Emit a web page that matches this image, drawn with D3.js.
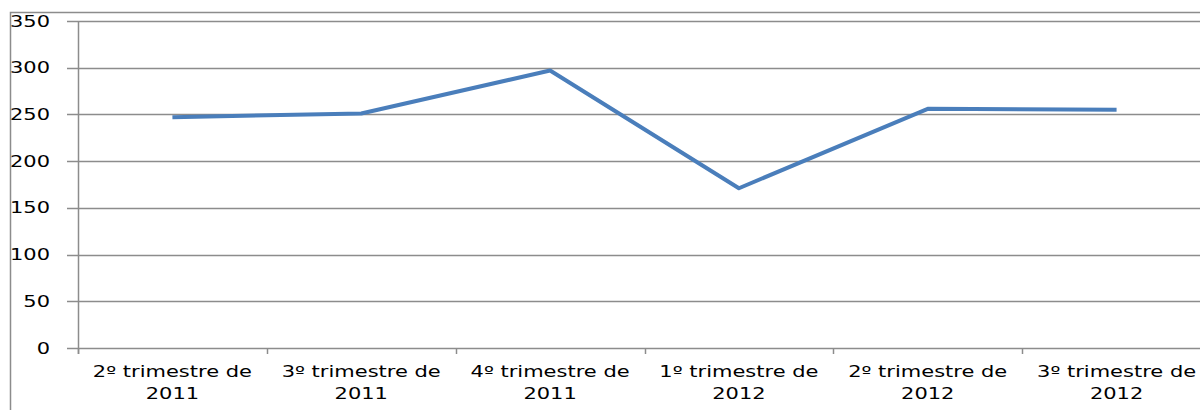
<!DOCTYPE html>
<html>
<head>
<meta charset="utf-8">
<script src="https://cdn.jsdelivr.net/npm/d3@7"></script>
<style>
  body { margin: 0; background: #fff; }
  svg text { font-family: "DejaVu Sans", sans-serif; fill: #000; }
</style>
</head>
<body>
<svg class="chart"></svg>
<script>
// Chart data
var quarters = ["2º trimestre de", "3º trimestre de", "4º trimestre de", "1º trimestre de", "2º trimestre de", "3º trimestre de"];
var years = ["2011", "2011", "2011", "2012", "2012", "2012"];
var values = [247, 251, 297, 171, 256, 255];
var yTicks = [0, 50, 100, 150, 200, 250, 300, 350];

// Canvas size
var imageWidth = 1200;
var imageHeight = 410;

// Plot area
var plotLeft = 78;
var plotRight = 1211;
var plotTop = 21;
var plotBottom = 348;

// Text in the reference is stretched sideways
var textStretch = 1.4;
var fontSize = "15px";

var canvas = d3.select(".chart")
    .attr("width", imageWidth)
    .attr("height", imageHeight);

// Outer border of the chart area
canvas.append("rect")
    .attr("x", 10.5)
    .attr("y", 12.5)
    .attr("width", 1300)
    .attr("height", 500)
    .attr("fill", "none")
    .attr("stroke", "#8c8c8c")
    .attr("stroke-width", 1.5);

var xScale = d3.scaleBand()
    .domain(d3.range(values.length))
    .range([plotLeft, plotRight]);

var yScale = d3.scaleLinear()
    .domain([0, 350])
    .range([plotBottom, plotTop]);

// Horizontal grid lines with ticks sticking out left
canvas.append("g")
    .selectAll("line")
    .data(yTicks)
    .enter().append("line")
    .attr("x1", plotLeft - 11)
    .attr("x2", imageWidth)
    .attr("y1", function(d) { return Math.round(yScale(d)) + 0.5; })
    .attr("y2", function(d) { return Math.round(yScale(d)) + 0.5; })
    .attr("stroke", "#8c8c8c")
    .attr("stroke-width", 1.5);

// Y tick labels
canvas.append("g")
    .selectAll("text")
    .data(yTicks)
    .enter().append("text")
    .attr("transform", function(d) { return "translate(50," + (yScale(d) + 5.5) + ") scale(" + textStretch + ",1)"; })
    .attr("text-anchor", "end")
    .style("font-size", fontSize)
    .text(function(d) { return d; });

// Vertical axis line
canvas.append("line")
    .attr("x1", plotLeft + 0.5)
    .attr("x2", plotLeft + 0.5)
    .attr("y1", plotTop)
    .attr("y2", plotBottom + 6)
    .attr("stroke", "#8c8c8c")
    .attr("stroke-width", 1.5);

// X tick marks at category boundaries
canvas.append("g")
    .selectAll("line")
    .data(d3.range(values.length + 1))
    .enter().append("line")
    .attr("x1", function(d) { return Math.round(plotLeft + d * xScale.bandwidth()) + 0.5; })
    .attr("x2", function(d) { return Math.round(plotLeft + d * xScale.bandwidth()) + 0.5; })
    .attr("y1", plotBottom)
    .attr("y2", plotBottom + 6)
    .attr("stroke", "#8c8c8c")
    .attr("stroke-width", 1.5);

// X labels on two lines
var labels = canvas.append("g")
    .selectAll("text")
    .data(values)
    .enter().append("text")
    .attr("transform", function(d, i) { return "translate(" + (xScale(i) + xScale.bandwidth() / 2) + ",0) scale(" + textStretch + ",1)"; })
    .attr("text-anchor", "middle")
    .style("font-size", fontSize);

labels.append("tspan")
    .attr("x", 0)
    .attr("y", 377)
    .text(function(d, i) { return quarters[i]; });

labels.append("tspan")
    .attr("x", 0)
    .attr("y", 399)
    .text(function(d, i) { return years[i]; });

// Data line
var line = d3.line()
    .x(function(d, i) { return xScale(i) + xScale.bandwidth() / 2; })
    .y(function(d) { return yScale(d); });

canvas.append("path")
    .datum(values)
    .attr("d", line)
    .attr("fill", "none")
    .attr("stroke", "#4a7ebb")
    .attr("stroke-width", 4)
    .attr("stroke-linejoin", "round");
</script>
</body>
</html>
